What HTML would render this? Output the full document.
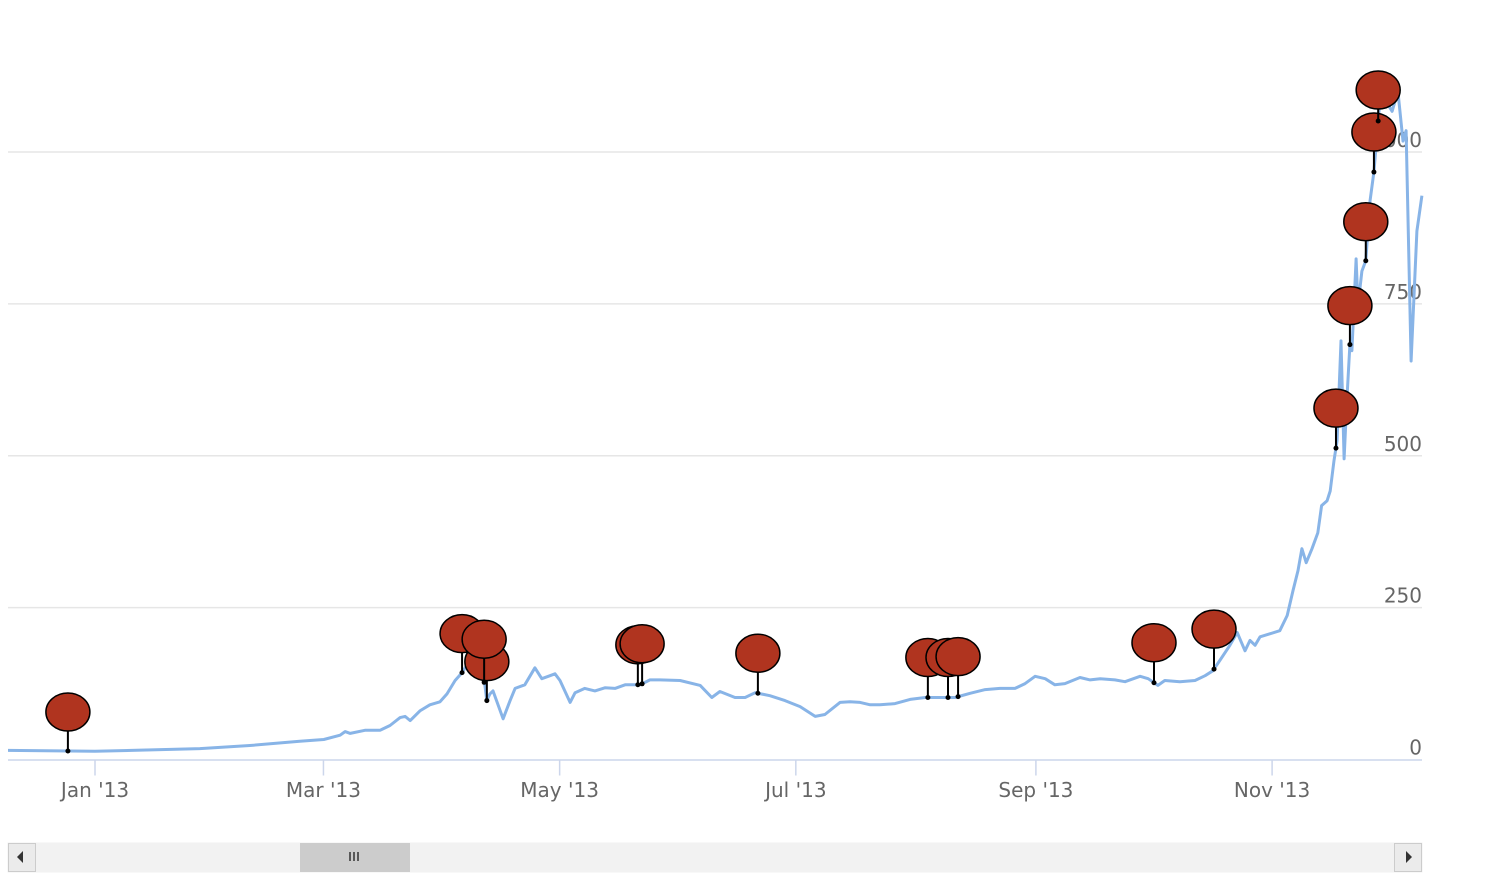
<!DOCTYPE html>
<html><head><meta charset="utf-8"><style>
html,body{margin:0;padding:0;background:#fff;}
svg text{font-family:"DejaVu Sans","Liberation Sans",sans-serif;}
</style></head><body>
<svg id="chart" width="1490" height="882" viewBox="0 0 1490 882" xmlns="http://www.w3.org/2000/svg">
<g id="grid"></g>
<g id="yaxis"></g>
<g id="xaxis"></g>
<path id="line" fill="none" stroke="#88b4e7" stroke-width="3" stroke-linejoin="round"></path>
<g id="flags"></g>
<g>
<rect x="8" y="843" width="1414" height="29" fill="#f2f2f2" stroke="#f2f2f2"></rect>
<rect x="8.5" y="843.5" width="27" height="28" fill="#ebebeb" stroke="#cccccc"></rect>
<path d="M23 851 L17 857 L23 863 Z" fill="#333"></path>
<rect x="1394.5" y="843.5" width="27" height="28" fill="#ebebeb" stroke="#cccccc"></rect>
<path d="M1406 851 L1412 857 L1406 863 Z" fill="#333"></path>
<rect x="300" y="843" width="110" height="29" fill="#cccccc"></rect>
<path d="M350 852 V861 M354 852 V861 M358 852 V861" stroke="#333" stroke-width="1.5"></path>
</g>
</svg>
<script>
// data: day offset from 2013-01-01, USD price
const days = [-22.5,0,27.1,40,52.9,59.1,63.3,64.6,65.9,69.7,73.6,76.2,78.8,80.1,81.4,83.9,86.5,89.1,90.9,93,94.8,96.8,99.4,100.7,101.2,102,102.8,105.4,107.2,108.5,111,113.6,115.4,117.5,118.8,120.1,122.7,124,126.5,129.1,131.7,134.3,136.9,140.8,143.3,145.9,151.1,156.3,159.3,161.4,165.3,167.9,170.5,174.3,178.2,182.1,186,188.5,192.4,195,197.6,200.2,202.7,206.6,210.5,214.4,218.2,222.1,226,229.9,233.7,237.6,240.2,242.8,245.4,247.9,250.5,254.4,257,259.6,263.4,266,269.9,272,274.5,276.3,280.2,284.1,286.7,288.7,290.5,293.1,295,297,298.3,299.6,300.9,303.5,306,307.9,309.4,310.7,311.7,312.8,314.3,315.8,316.8,318.2,319,320,320.8,321.8,322.6,323.3,324.1,324.6,325.7,326.2,327.2,328.2,329.3,330.3,331.4,332.4,333.4,335,336.5,337.8,338.6,339.9,341.4,342.7];
const prices = [15,13.5,18,23,30,33,40,46,43,48,48,56,69,71,64,80,90,95,108,130,143,163,155,122,97,108,113,67,97,117,123,151,133,138,141,130,94,110,117,113,118,117,123,123,131,131,130,122,102,112,102,102,110,105,97,87,71,74,94,95,94,90,90,92,99,102,102,102,109,115,117,117,125,137,133,123,125,135,131,133,131,128,137,133,122,130,128,130,138,146,163,188,209,179,196,188,202,207,212,237,278,311,347,324,347,373,418,426,442,492,525,689,495,590,683,673,824,747,804,821,919,967,1051,1125,1084,1067,1100,1018,1035,656,870,928];
const flagDays = [-7,94.8,101.2,100.5,140.2,141.3,171.2,215.1,220.3,222.9,273.5,289,320.5,324.1,328.2,330.3,331.4];
const flagHeights = [39,39,39,43,40,40,40,40,40,40,40,40,40,39,39,40,31];
const yTicks = [0,250,500,750,1000];
const xTickDays = [0,59,120,181,243,304];
const xTickLabels = ["Jan '13","Mar '13","May '13","Jul '13","Sep '13","Nov '13"];

const X0=95, PXD=3.872, Y0=759.5, PXV=0.6075, LEFT=8, RIGHT=1422;
const xs = d => X0 + d*PXD;
const ys = v => Y0 - v*PXV;
const NS="http://www.w3.org/2000/svg";
function mk(tag, attrs, parent){const e=document.createElementNS(NS,tag);for(const k in attrs)e.setAttribute(k,attrs[k]);parent.appendChild(e);return e;}

const grid=document.getElementById('grid'), ya=document.getElementById('yaxis'), xa=document.getElementById('xaxis');
yTicks.forEach(t=>{
  if(t>0){const g=mk('line',{x1:LEFT,x2:RIGHT,y1:ys(t),y2:ys(t),stroke:'#e6e6e6','stroke-width':1.5},grid);
  
  }
  const tx=mk('text',{x:RIGHT,y:ys(t)-5,'text-anchor':'end','font-size':20,fill:'#666'},ya);
  tx.textContent=t;
  
  
});
const ax=mk('line',{x1:LEFT,x2:RIGHT,y1:Y0+0.5,y2:Y0+0.5,stroke:'#ccd6eb','stroke-width':1.5},xa);


xTickDays.forEach((d,i)=>{
  const tk=mk('line',{x1:xs(d),x2:xs(d),y1:Y0,y2:Y0+16,stroke:'#ccd6eb','stroke-width':1.5},xa);
  
  
  const tx=mk('text',{x:xs(d),y:797,'text-anchor':'middle','font-size':20,fill:'#666'},xa);
  tx.textContent=xTickLabels[i];
  
  
});
let dstr='';
days.forEach((d,i)=>{dstr+=(i?'L':'M')+Math.max(LEFT,Math.min(RIGHT,xs(d))).toFixed(1)+' '+ys(prices[i]).toFixed(1)+' ';});
document.getElementById('line').setAttribute('d',dstr);

function valAt(d){for(let i=1;i<days.length;i++){if(d<=days[i]){const t=(d-days[i-1])/(days[i]-days[i-1]);return prices[i-1]+t*(prices[i]-prices[i-1]);}}return prices[prices.length-1];}
const fg=document.getElementById('flags');
flagDays.forEach((d,i)=>{
  const x=xs(d), y=ys(valAt(d)), h=flagHeights[i];
  const g=mk('g',{},fg);
  
  
  mk('line',{x1:x,x2:x,y1:y,y2:y-h,stroke:'#000','stroke-width':2},g);
  mk('circle',{cx:x,cy:y,r:2.5,fill:'#000'},g);
  mk('ellipse',{cx:x,cy:y-h,rx:22,ry:19,fill:'#b0341f',stroke:'#000','stroke-width':1.5},g);
});
</script>
</body></html>
